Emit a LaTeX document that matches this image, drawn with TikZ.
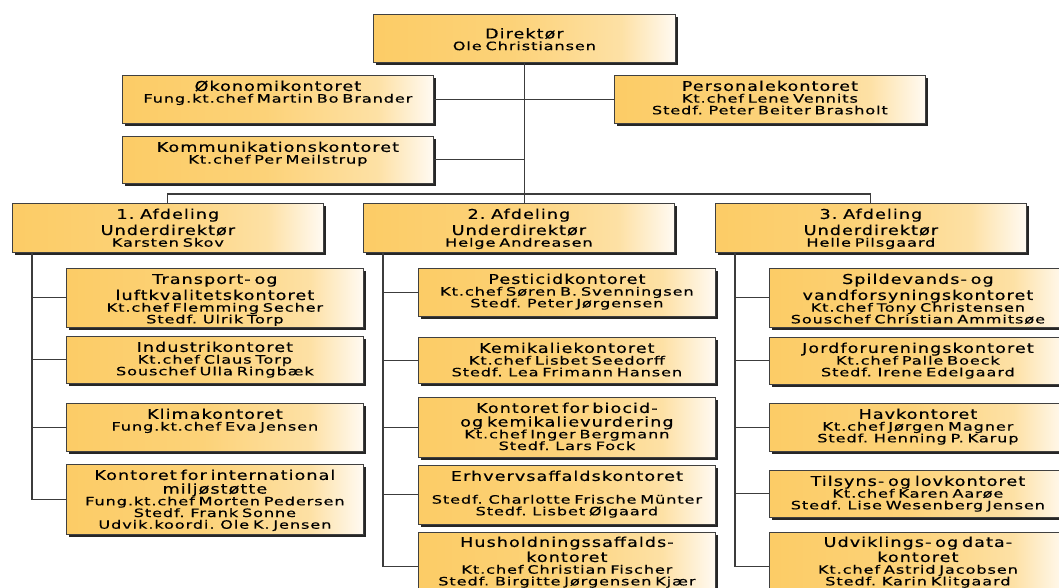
\documentclass[tikz,border=0pt]{standalone}
\usepackage{fontspec}
\usepackage{tikz}
\usetikzlibrary{shadows}
\newfontfamily\unitfont[FakeStretch=1.4,LetterSpace=8,WordSpace=3,FakeBold=0.5]{DejaVu Sans}
\newfontfamily\headfont[FakeStretch=1.3,LetterSpace=8,WordSpace=2.5,FakeBold=0.5]{DejaVu Sans}
\newcommand{\hl}[1]{{\headfont\fontsize{13.5}{14}\selectfont #1}}
\definecolor{boxorange}{RGB}{252,204,102}
\definecolor{boxcream}{RGB}{255,250,242}
\definecolor{linkgray}{RGB}{60,60,60}
\pgfdeclarehorizontalshading{unitfade}{100bp}{color(0bp)=(boxorange); color(25bp)=(boxorange); color(48bp)=(boxorange!88!white); color(66bp)=(boxorange!55!boxcream); color(75bp)=(boxcream); color(100bp)=(boxcream)}
\tikzset{
	unit/.style={draw=black!75, line width=0.8pt, shading=unitfade,
		drop shadow={shadow xshift=3pt, shadow yshift=-3pt, fill=black!85, opacity=1},
		inner xsep=0pt, inner ysep=0pt, align=center, anchor=north west,
		text height=15.5pt, font=\unitfont\fontsize{11.5}{11.7}\selectfont},
	staff/.style={unit, text width=311pt},
	dept/.style={unit, text width=311pt},
	office/.style={unit, text width=297pt},
	link/.style={draw=linkgray, line width=1.1pt},
}
\begin{document}
\begin{tikzpicture}[x=1pt, y=-1pt]
				\useasboundingbox (0,0) rectangle (1059,587);
				\fill[white] (0,0) rectangle (1059,587);
				\clip (0,0) rectangle (1059,587);
				\node[unit, text width=302pt, text height=24pt, text depth=24pt] (dir) at (373,14) {\hl{Direktør}\\Ole Christiansen};
				\node[staff, text depth=32.5pt] (oko) at (122,75) {\hl{Økonomikontoret}\\Fung.kt.chef Martin Bo Brander};
				\node[staff, text depth=31.5pt] (kom) at (122,136) {\hl{Kommunikationskontoret}\\Kt.chef Per Meilstrup};
				\node[staff, text depth=32.5pt] (pers) at (614,75) {\hl{Personalekontoret}\\Kt.chef Lene Vennits\\Stedf. Peter Beiter Brasholt};
				\node[dept, text depth=33.5pt] (afd1) at (12,203) {\hl{1. Afdeling\\[2pt]Underdirektør}\\Karsten Skov};
				\node[dept, text depth=33.5pt] (afd2) at (363,203) {\hl{2. Afdeling\\[2pt]Underdirektør}\\Helge Andreasen};
				\node[dept, text depth=33.5pt] (afd3) at (715,203) {\hl{3. Afdeling\\[2pt]Underdirektør}\\Helle Pilsgaard};
				\node[office, text depth=43.5pt] (trans) at (66,268) {\hl{Transport- og\\[2pt]luftkvalitetskontoret}\\Kt.chef Flemming Secher\\Stedf. Ulrik Torp};
				\node[office, text depth=31.5pt] (indu) at (66,336) {\hl{Industrikontoret}\\Kt.chef Claus Torp\\Souschef Ulla Ringbæk};
				\node[office, text depth=32.5pt] (klima) at (66,403) {\hl{Klimakontoret}\\Fung.kt.chef Eva Jensen};
				\node[office, text depth=54.5pt] (intl) at (66,464) {\hl{Kontoret for international\\[2pt]miljøstøtte}\\Fung.kt.chef Morten Pedersen\\Stedf. Frank Sonne\\Udvik.koordi. Ole K. Jensen};
				\node[office, text depth=32.5pt] (pest) at (418,268) {\hl{Pesticidkontoret}\\Kt.chef Søren B. Svenningsen\\Stedf. Peter Jørgensen};
				\node[office, text depth=30.5pt] (kemi) at (418,337) {\hl{Kemikaliekontoret}\\Kt.chef Lisbet Seedorff\\Stedf. Lea Frimann Hansen};
				\node[office, text depth=44.5pt] (bioc) at (418,397) {\hl{Kontoret for biocid-\\[2pt]og kemikalievurdering}\\Kt.chef Inger Bergmann\\Stedf. Lars Fock};
				\node[office, text depth=43.5pt] (erhv) at (418,465) {\hl{Erhvervsaffaldskontoret}\\[11pt]Stedf. Charlotte Frische Münter\\Stedf. Lisbet Ølgaard};
				\node[office, text depth=54.5pt, text height=14.5pt] (hush) at (418,532) {\hl{Husholdningssaffalds-\\[1pt]kontoret}\\Kt.chef Christian Fischer\\Stedf. Birgitte Jørgensen Kjær};
				\node[office, text depth=43.5pt] (spild) at (769,268) {\hl{Spildevands- og\\[2pt]vandforsyningskontoret}\\Kt.chef Tony Christensen\\Souschef Christian Ammitsøe};
				\node[office, text depth=31.5pt] (jord) at (769,337) {\hl{Jordforureningskontoret}\\Kt.chef Palle Boeck\\Stedf. Irene Edelgaard};
				\node[office, text depth=32.5pt] (hav) at (769,403) {\hl{Havkontoret}\\Kt.chef Jørgen Magner\\Stedf. Henning P. Karup};
				\node[office, text depth=31.5pt] (tils) at (769,470) {\hl{Tilsyns- og lovkontoret}\\Kt.chef Karen Aarøe\\Stedf. Lise Wesenberg Jensen};
				\node[office, text depth=54.5pt, text height=14.5pt] (udv) at (769,532) {\hl{Udviklings- og data-\\[1pt]kontoret}\\Kt.chef Astrid Jacobsen\\Stedf. Karin Klitgaard};
				\draw[link] (dir.south) -- (dir.south |- afd2.north);
				\draw[link] (oko.east) -- (oko.east -| dir.south);
				\draw[link] (kom.east) -- (kom.east -| dir.south);
				\draw[link] (pers.west) -- (pers.west -| dir.south);
				\draw[link] (afd1.north) |- ([yshift=9pt]afd2.north) -| (afd3.north);
				\coordinate (sp1) at ([xshift=20pt]afd1.south west);
				\coordinate (sp2) at ([xshift=20pt]afd2.south west);
				\coordinate (sp3) at ([xshift=20pt]afd3.south west);
				\draw[link] (sp1) |- (intl.west);
				\draw[link] (sp2) |- (hush.west);
				\draw[link] (sp3) |- (udv.west);
				\foreach \o in {trans,indu,klima} \draw[link] (\o.west) -- (\o.west -| sp1);
				\foreach \o in {pest,kemi,bioc,erhv} \draw[link] (\o.west) -- (\o.west -| sp2);
				\foreach \o in {spild,jord,hav,tils} \draw[link] (\o.west) -- (\o.west -| sp3);
\end{tikzpicture}
\end{document}
